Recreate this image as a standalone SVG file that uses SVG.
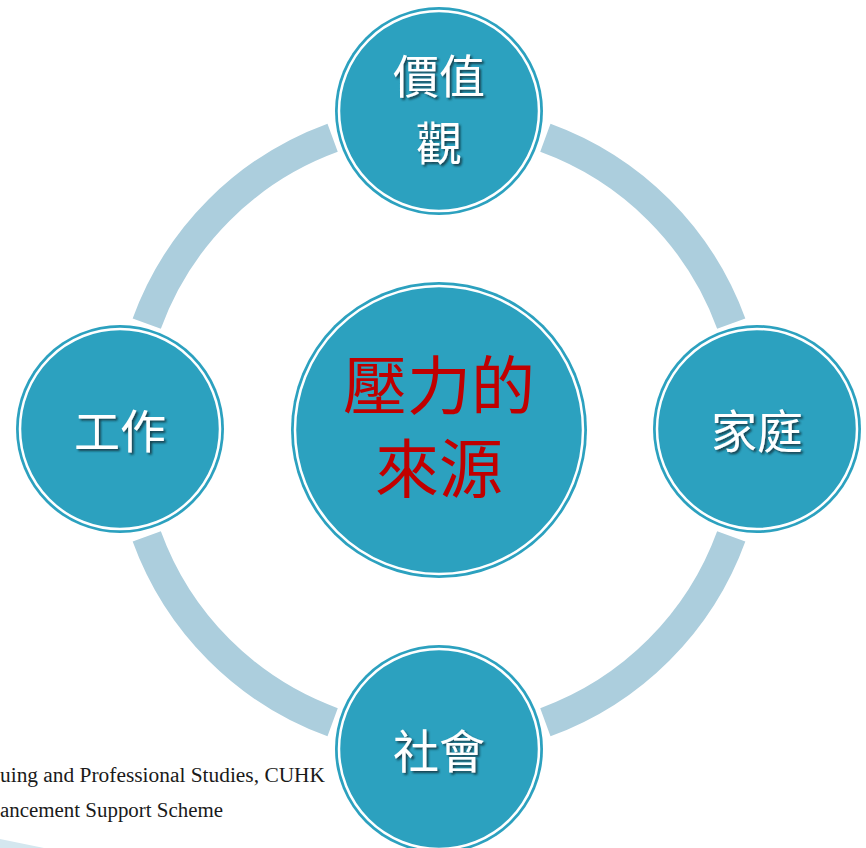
<svg xmlns="http://www.w3.org/2000/svg" width="866" height="848" viewBox="0 0 866 848">
<defs>
<filter id="sh" x="-20%" y="-20%" width="150%" height="150%">
<feDropShadow dx="2" dy="2" stdDeviation="1" flood-color="#0a2a35" flood-opacity="0.8"/>
</filter>
</defs>
<style>
.arc{fill:none;stroke:#ACCEDD;stroke-width:30;stroke-linecap:butt}
.node{fill:#2CA1BF}
.ring{fill:none;stroke:#ffffff;stroke-width:2.5}
.lbl{font-family:"Noto Sans CJK TC","Noto Sans CJK SC",sans-serif;font-size:46px;fill:#ffffff;text-anchor:middle;filter:url(#sh)}
.ctr{font-family:"Noto Sans CJK TC","Noto Sans CJK SC",sans-serif;font-size:64px;fill:#C00000;text-anchor:middle}
.foot{font-family:"Liberation Serif",serif;font-size:20px;fill:#1a1a1a}
</style>
<rect width="866" height="848" fill="#ffffff"/>
<polygon points="0,839 44,848 0,848" fill="#D4E7EF"/>
<g id="connectors">
<path class="arc" d="M545.37,137.76 A311,311 0 0 1 731.24,323.63"/>
<path class="arc" d="M731.24,536.37 A311,311 0 0 1 545.37,722.24"/>
<path class="arc" d="M332.63,722.24 A311,311 0 0 1 146.76,536.37"/>
<path class="arc" d="M146.76,323.63 A311,311 0 0 1 332.63,137.76"/>
</g>
<text class="foot" x="0" y="782" textLength="325" lengthAdjust="spacingAndGlyphs">uing and Professional Studies, CUHK</text>
<text class="foot" x="0" y="817" textLength="223" lengthAdjust="spacingAndGlyphs">ancement Support Scheme</text>
<g id="center">
<circle class="node" cx="439" cy="430" r="148"/>
<circle class="ring" cx="439" cy="430" r="144"/>
<text class="ctr" x="439" y="409">壓力的</text>
<text class="ctr" x="439" y="492">來源</text>
</g>
<g id="values">
<circle class="node" cx="439" cy="111" r="104"/>
<circle class="ring" cx="439" cy="111" r="100"/>
<text class="lbl" x="439" y="93">價值</text>
<text class="lbl" x="439" y="160">觀</text>
</g>
<g id="work">
<circle class="node" cx="120" cy="429" r="104"/>
<circle class="ring" cx="120" cy="429" r="100"/>
<text class="lbl" x="120" y="448">工作</text>
</g>
<g id="family">
<circle class="node" cx="757" cy="429" r="104"/>
<circle class="ring" cx="757" cy="429" r="100"/>
<text class="lbl" x="757" y="448">家庭</text>
</g>
<g id="society">
<circle class="node" cx="439" cy="749" r="104"/>
<circle class="ring" cx="439" cy="749" r="100"/>
<text class="lbl" x="439" y="768">社會</text>
</g>
</svg>
